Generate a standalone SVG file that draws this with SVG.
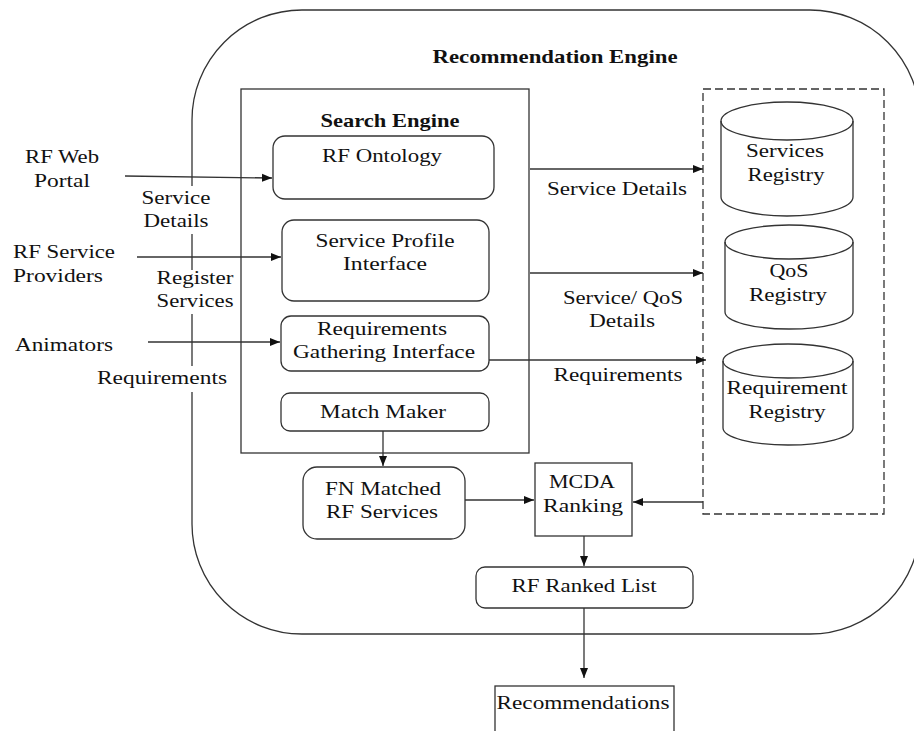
<svg xmlns="http://www.w3.org/2000/svg" width="914" height="731" viewBox="0 0 914 731">
<style>
text{font-family:"Liberation Serif","Times New Roman",serif;font-size:19px;fill:#111;text-anchor:middle}
.b{font-weight:bold}
.s{fill:none;stroke:#333;stroke-width:1.3}
.w{fill:#fff;stroke:#333;stroke-width:1.3}
.c{fill:none;stroke:#333;stroke-width:1.3}
</style>
<defs>
<marker id="ah" viewBox="0 0 10 10" refX="10" refY="5" markerWidth="10" markerHeight="10" markerUnits="userSpaceOnUse" orient="auto">
<path d="M0,1 L10,5 L0,9 Z" fill="#111"/>
</marker>
</defs>
<rect width="914" height="731" fill="#fff"/>
<g id="recommendation-engine">
<rect x="192" y="10" width="728" height="624" rx="110" ry="110" class="s"/>
<text class="b" x="555" y="63" textLength="245" lengthAdjust="spacingAndGlyphs">Recommendation Engine</text>
</g>
<g id="search-engine">
<rect x="241" y="89" width="288" height="364" class="s"/>
<text class="b" x="390" y="127" textLength="139" lengthAdjust="spacingAndGlyphs">Search Engine</text>
</g>
<g id="registries">
<rect x="703" y="89" width="181" height="425" class="s" stroke-dasharray="8,4"/>
</g>
<g id="connectors">
<line x1="125" y1="176" x2="272" y2="178" class="c" marker-end="url(#ah)"/>
<line x1="137" y1="257" x2="281" y2="257" class="c" marker-end="url(#ah)"/>
<line x1="148" y1="342" x2="280" y2="342" class="c" marker-end="url(#ah)"/>
<line x1="530" y1="169" x2="703" y2="169" class="c" marker-end="url(#ah)"/>
<line x1="530" y1="273" x2="703" y2="273" class="c" marker-end="url(#ah)"/>
<line x1="489" y1="360" x2="706" y2="360" class="c" marker-end="url(#ah)"/>
<line x1="703" y1="502" x2="633" y2="502" class="c" marker-end="url(#ah)"/>
<line x1="383" y1="431" x2="383" y2="466" class="c" marker-end="url(#ah)"/>
<line x1="465" y1="500" x2="534" y2="500" class="c" marker-end="url(#ah)"/>
<line x1="584" y1="528" x2="584" y2="566" class="c" marker-end="url(#ah)"/>
<line x1="584" y1="608" x2="584" y2="678" class="c" marker-end="url(#ah)"/>
</g>
<g id="labels">
<rect x="140" y="186" width="73" height="48" fill="#fff"/>
<text x="176" y="204" textLength="69" lengthAdjust="spacingAndGlyphs">Service</text>
<text x="176" y="227" textLength="65" lengthAdjust="spacingAndGlyphs">Details</text>
<rect x="154" y="270" width="82" height="44" fill="#fff"/>
<text x="195" y="284" textLength="77" lengthAdjust="spacingAndGlyphs">Register</text>
<text x="195" y="307" textLength="77" lengthAdjust="spacingAndGlyphs">Services</text>
<rect x="95" y="366" width="134" height="26" fill="#fff"/>
<text x="162" y="384" textLength="130" lengthAdjust="spacingAndGlyphs">Requirements</text>
<text x="617" y="195" textLength="140" lengthAdjust="spacingAndGlyphs">Service Details</text>
<text x="623" y="304" textLength="120" lengthAdjust="spacingAndGlyphs">Service/ QoS</text>
<text x="622" y="327" textLength="66" lengthAdjust="spacingAndGlyphs">Details</text>
<text x="618" y="381" textLength="129" lengthAdjust="spacingAndGlyphs">Requirements</text>
</g>
<g id="rf-web-portal">
<text x="62" y="163" textLength="74" lengthAdjust="spacingAndGlyphs">RF Web</text>
<text x="62" y="187" textLength="56" lengthAdjust="spacingAndGlyphs">Portal</text>
</g>
<g id="rf-service-providers">
<text x="64" y="258" textLength="102" lengthAdjust="spacingAndGlyphs">RF Service</text>
<text x="58" y="282" textLength="90" lengthAdjust="spacingAndGlyphs">Providers</text>
</g>
<g id="animators">
<text x="64" y="351" textLength="98" lengthAdjust="spacingAndGlyphs">Animators</text>
</g>
<g id="rf-ontology">
<rect x="273" y="136" width="221" height="63" rx="12" class="w"/>
<text x="382" y="162" textLength="120" lengthAdjust="spacingAndGlyphs">RF Ontology</text>
</g>
<g id="service-profile-interface">
<rect x="282" y="220" width="207" height="81" rx="12" class="w"/>
<text x="385" y="247" textLength="139" lengthAdjust="spacingAndGlyphs">Service Profile</text>
<text x="385" y="270" textLength="84" lengthAdjust="spacingAndGlyphs">Interface</text>
</g>
<g id="requirements-gathering-interface">
<rect x="281" y="316" width="208" height="55" rx="10" class="w"/>
<text x="382" y="335" textLength="130" lengthAdjust="spacingAndGlyphs">Requirements</text>
<text x="384" y="358" textLength="182" lengthAdjust="spacingAndGlyphs">Gathering Interface</text>
</g>
<g id="match-maker">
<rect x="281" y="393" width="208" height="38" rx="9" class="w"/>
<text x="383" y="418" textLength="126" lengthAdjust="spacingAndGlyphs">Match Maker</text>
</g>
<g id="services-registry">
<path d="M721,121 A66,19 0 0 1 853,121 V197 A66,19 0 0 1 721,197 Z" class="w"/>
<path d="M721,121 A66,19 0 0 0 853,121" class="c"/>
<text x="785" y="157" textLength="78" lengthAdjust="spacingAndGlyphs">Services</text>
<text x="786" y="181" textLength="77" lengthAdjust="spacingAndGlyphs">Registry</text>
</g>
<g id="qos-registry">
<path d="M725,242 A64,17 0 0 1 853,242 V312 A64,17 0 0 1 725,312 Z" class="w"/>
<path d="M725,242 A64,17 0 0 0 853,242" class="c"/>
<text x="789" y="277" textLength="39" lengthAdjust="spacingAndGlyphs">QoS</text>
<text x="788" y="301" textLength="78" lengthAdjust="spacingAndGlyphs">Registry</text>
</g>
<g id="requirement-registry">
<path d="M723,361 A65,17 0 0 1 853,361 V428 A65,17 0 0 1 723,428 Z" class="w"/>
<path d="M723,361 A65,17 0 0 0 853,361" class="c"/>
<text x="787" y="394" textLength="121" lengthAdjust="spacingAndGlyphs">Requirement</text>
<text x="787" y="418" textLength="77" lengthAdjust="spacingAndGlyphs">Registry</text>
</g>
<g id="fn-matched">
<rect x="303" y="467" width="162" height="72" rx="14" class="w"/>
<text x="383" y="495" textLength="116" lengthAdjust="spacingAndGlyphs">FN Matched</text>
<text x="382" y="518" textLength="112" lengthAdjust="spacingAndGlyphs">RF Services</text>
</g>
<g id="mcda-ranking">
<rect x="535" y="463" width="97" height="73" class="w"/>
<text x="582" y="488" textLength="66" lengthAdjust="spacingAndGlyphs">MCDA</text>
<text x="583" y="512" textLength="80" lengthAdjust="spacingAndGlyphs">Ranking</text>
</g>
<g id="rf-ranked-list">
<rect x="476" y="567" width="217" height="41" rx="9" class="w"/>
<text x="584" y="592" textLength="145" lengthAdjust="spacingAndGlyphs">RF Ranked List</text>
</g>
<g id="recommendations">
<rect x="495" y="686" width="179" height="60" class="w"/>
<text x="583" y="709" textLength="173" lengthAdjust="spacingAndGlyphs">Recommendations</text>
</g>
</svg>
